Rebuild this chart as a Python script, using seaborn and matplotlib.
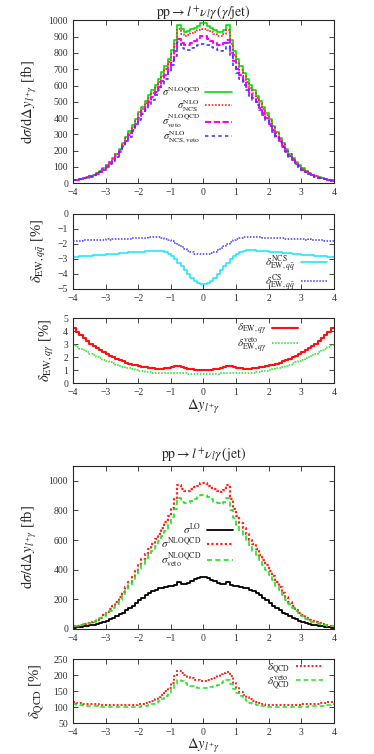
import numpy as np
import pandas as pd
import matplotlib
matplotlib.use("Agg")
import matplotlib.pyplot as plt
import seaborn as sns

# bins of width 0.1 in Delta y
edges = np.linspace(-4, 4, 81)
centers = 0.5 * (edges[:-1] + edges[1:])

# top panel: d sigma / d Delta y [fb]
nlo_qcd = [18, 22, 27, 32, 38, 45, 53, 63, 75, 92, 112, 132, 155, 182, 212, 246, 282, 318, 355, 395,
           435, 470, 505, 540, 572, 605, 640, 680, 720, 765, 815, 880, 972, 945, 930, 932, 945, 955, 968, 985,
           982, 966, 954, 943, 930, 927, 940, 970, 878, 812, 762, 718, 678, 638, 602, 570, 536, 502, 468, 432,
           393, 354, 316, 280, 245, 212, 182, 154, 130, 110, 91, 75, 62, 52, 44, 37, 31, 26, 22, 18]
nlo_ncs = [18, 22, 26, 31, 37, 44, 52, 62, 74, 90, 110, 129, 151, 178, 207, 240, 275, 310, 346, 385,
           424, 458, 492, 526, 557, 589, 622, 661, 700, 743, 792, 855, 945, 918, 905, 908, 920, 930, 940, 950,
           948, 938, 928, 918, 906, 904, 916, 943, 853, 790, 740, 698, 660, 620, 586, 555, 522, 490, 456, 421,
           383, 345, 309, 273, 239, 207, 178, 151, 127, 107, 89, 73, 61, 51, 43, 36, 30, 25, 21, 17]
nlo_qcd_veto = [17, 21, 25, 30, 35, 42, 49, 58, 70, 85, 104, 122, 143, 168, 196, 227, 260, 294, 329, 366,
                403, 435, 467, 499, 529, 559, 591, 627, 664, 705, 752, 810, 883, 858, 847, 850, 862, 875, 890, 904,
                902, 888, 874, 860, 848, 846, 858, 882, 800, 748, 702, 662, 626, 590, 556, 526, 496, 464, 432, 398,
                362, 327, 292, 259, 227, 196, 169, 143, 120, 102, 84, 69, 58, 48, 41, 34, 29, 24, 20, 16]
nlo_ncs_veto = [17, 21, 25, 29, 35, 41, 48, 57, 68, 83, 101, 119, 139, 163, 190, 220, 252, 285, 319, 355,
                391, 422, 452, 483, 512, 541, 572, 606, 642, 681, 726, 782, 867, 828, 816, 820, 832, 842, 850, 857,
                855, 846, 838, 828, 816, 814, 826, 862, 772, 722, 678, 640, 605, 571, 538, 509, 480, 449, 418, 385,
                351, 317, 283, 251, 220, 191, 164, 139, 117, 99, 82, 67, 56, 47, 40, 33, 28, 23, 19, 16]

# EW corrections, q qbar channel [%]
ew_qq_ncs = [-2.86, -2.85, -2.83, -2.82, -2.80, -2.79, -2.77, -2.75, -2.73, -2.72,
             -2.70, -2.68, -2.67, -2.65, -2.63, -2.61, -2.60, -2.58, -2.56, -2.55,
             -2.53, -2.52, -2.50, -2.48, -2.47, -2.46, -2.46, -2.48, -2.55, -2.66,
             -2.82, -3.02, -3.25, -3.50, -3.76, -4.02, -4.26, -4.46, -4.62, -4.70,
             -4.70, -4.62, -4.47, -4.27, -4.03, -3.77, -3.51, -3.26, -3.03, -2.83,
             -2.66, -2.54, -2.47, -2.44, -2.43, -2.44, -2.45, -2.46, -2.48, -2.50,
             -2.52, -2.54, -2.56, -2.58, -2.60, -2.62, -2.64, -2.66, -2.68, -2.70,
             -2.72, -2.74, -2.76, -2.78, -2.79, -2.81, -2.82, -2.84, -2.85, -2.86]
ew_qq_cs = [-1.82, -1.80, -1.81, -1.78, -1.77, -1.78, -1.75, -1.74, -1.74, -1.72,
            -1.71, -1.72, -1.69, -1.68, -1.68, -1.66, -1.65, -1.66, -1.63, -1.62,
            -1.62, -1.60, -1.61, -1.58, -1.57, -1.58, -1.57, -1.60, -1.65, -1.73,
            -1.83, -1.95, -2.08, -2.22, -2.36, -2.48, -2.58, -2.65, -2.69, -2.71,
            -2.71, -2.68, -2.62, -2.53, -2.42, -2.28, -2.14, -2.00, -1.87, -1.76,
            -1.67, -1.61, -1.58, -1.56, -1.57, -1.56, -1.58, -1.57, -1.59, -1.60,
            -1.61, -1.60, -1.62, -1.63, -1.63, -1.65, -1.66, -1.65, -1.68, -1.69,
            -1.70, -1.72, -1.71, -1.74, -1.75, -1.77, -1.76, -1.79, -1.81, -1.83]

# EW corrections, q gamma channel [%]
ew_qg = [4.20, 3.93, 3.68, 3.45, 3.24, 3.04, 2.86, 2.69, 2.53, 2.38,
         2.23, 2.09, 1.97, 1.86, 1.76, 1.66, 1.57, 1.49, 1.42, 1.36,
         1.30, 1.25, 1.20, 1.16, 1.13, 1.11, 1.10, 1.11, 1.14, 1.19,
         1.26, 1.31, 1.28, 1.20, 1.13, 1.08, 1.05, 1.04, 1.03, 1.03,
         1.03, 1.03, 1.04, 1.06, 1.09, 1.14, 1.21, 1.28, 1.31, 1.26,
         1.19, 1.14, 1.11, 1.10, 1.11, 1.13, 1.16, 1.20, 1.25, 1.30,
         1.36, 1.42, 1.49, 1.57, 1.66, 1.76, 1.86, 1.97, 2.09, 2.23,
         2.38, 2.53, 2.69, 2.86, 3.04, 3.24, 3.45, 3.68, 3.93, 4.20]
ew_qg_veto = [2.95, 2.80, 2.65, 2.51, 2.38, 2.25, 2.13, 2.01, 1.90, 1.80,
              1.70, 1.60, 1.51, 1.42, 1.34, 1.26, 1.19, 1.12, 1.06, 1.00,
              0.95, 0.90, 0.86, 0.82, 0.79, 0.77, 0.75, 0.75, 0.76, 0.78,
              0.80, 0.81, 0.80, 0.77, 0.75, 0.73, 0.72, 0.71, 0.70, 0.70,
              0.70, 0.70, 0.71, 0.72, 0.73, 0.75, 0.77, 0.80, 0.81, 0.80,
              0.78, 0.76, 0.75, 0.75, 0.77, 0.79, 0.82, 0.86, 0.90, 0.95,
              1.00, 1.06, 1.12, 1.19, 1.26, 1.34, 1.42, 1.51, 1.60, 1.70,
              1.80, 1.90, 2.01, 2.13, 2.25, 2.38, 2.51, 2.65, 2.80, 2.95]

# second figure: LO cross section [fb] (NLO curves are the ones above)
lo = [8, 10, 13, 16, 20, 24, 29, 34, 40, 47, 55, 64, 74, 85, 97, 110, 124, 139, 155, 172,
      192, 210, 227, 242, 255, 265, 273, 279, 284, 288, 292, 298, 314, 306, 304, 310, 322, 334, 344, 350,
      349, 342, 333, 322, 310, 303, 306, 313, 298, 292, 288, 284, 279, 273, 265, 255, 242, 227, 210, 192,
      172, 155, 139, 124, 110, 97, 85, 74, 64, 55, 47, 40, 34, 29, 24, 20, 16, 13, 10, 8]

# QCD corrections [%]
qcd = [116, 113, 112, 111, 110, 110, 109, 109, 108, 108, 107, 107, 106, 106, 106, 106, 106, 106, 107, 108,
       109, 111, 113, 116, 120, 125, 131, 139, 149, 161, 176, 196, 212, 205, 199, 194, 190, 186, 184, 183,
       183, 185, 188, 192, 197, 202, 207, 211, 197, 176, 160, 148, 138, 130, 124, 119, 115, 112, 110, 108,
       107, 106, 106, 106, 106, 106, 107, 107, 108, 108, 109, 109, 110, 110, 111, 111, 112, 112, 115, 116]
qcd_veto = [109, 106, 105, 104, 103, 103, 102, 102, 101, 101, 100, 100, 100, 99, 99, 99, 99, 99, 99, 100,
            101, 102, 104, 107, 110, 114, 119, 126, 134, 145, 158, 172, 185, 180, 175, 170, 166, 163, 161, 160,
            160, 161, 163, 166, 170, 175, 180, 185, 172, 158, 145, 134, 126, 119, 114, 110, 107, 104, 102, 101,
            100, 99, 99, 99, 99, 99, 99, 100, 100, 100, 101, 101, 102, 102, 103, 103, 104, 104, 106, 109]

sns.set_style("ticks")
plt.rcParams["font.family"] = ["Liberation Serif", "DejaVu Serif"]
plt.rcParams["mathtext.fontset"] = "stix"
plt.rcParams["axes.linewidth"] = 0.8


def draw(ax, vals, color, ls, lw, label):
    df = pd.DataFrame({"dy": centers, "val": vals})
    sns.histplot(data=df, x="dy", weights="val", binwidth=0.1, binrange=(-4, 4),
                 element="step", fill=False, color=color, linestyle=ls, linewidth=lw,
                 label=label, ax=ax)


def style(ax, yticks, ylim):
    ax.set_xlim(-4, 4)
    ax.set_ylim(*ylim)
    ax.set_xticks(range(-4, 5))
    ax.set_yticks(yticks)
    ax.tick_params(direction="in", top=True, right=True, length=3.5, width=0.6,
                   labelsize=7, labelcolor="#333333", pad=3.5)
    ax.set_xticklabels(["\u22124", "\u22123", "\u22122", "\u22121", "0", "1", "2", "3", "4"])
    ax.set_xlabel("")
    ax.set_ylabel("")


def leg(ax, x, y, spacing=-0.1, size=8):
    ax.legend(loc="center", bbox_to_anchor=(x, y), markerfirst=False, frameon=False,
              fontsize=size, handlelength=2.4 * 8 / size, handletextpad=0.5, labelspacing=spacing,
              borderaxespad=0, borderpad=0)


fig = plt.figure(figsize=(3.74, 7.54), dpi=100)
L, W = 0.195, 0.698
ax1 = fig.add_axes([L, 0.757, W, 0.216])
ax2 = fig.add_axes([L, 0.617, W, 0.0995])
ax3 = fig.add_axes([L, 0.492, W, 0.0862])
ax4 = fig.add_axes([L, 0.166, W, 0.216])
ax5 = fig.add_axes([L, 0.041, W, 0.0849])

dy = r"$\Delta y_{l^{+}\gamma}$"
ylab = 10.5

# panel 1
draw(ax1, nlo_qcd, "#00e000", "-", 1.2, r"$\sigma^{\rm NLOQCD}$")
draw(ax1, nlo_ncs, "#ff2020", (0, (1, 1)), 1.2, r"$\sigma^{\rm NLO}_{\rm NCS}$")
draw(ax1, nlo_qcd_veto, "#ff00ff", (0, (3, 1.2)), 1.5, r"$\sigma^{\rm NLOQCD}_{\rm veto}$")
draw(ax1, nlo_ncs_veto, "#3c3cff", (0, (2, 2)), 1.2, r"$\sigma^{\rm NLO}_{\rm NCS,veto}$")
style(ax1, range(0, 1001, 100), (0, 1000))
ax1.set_ylabel(r"${\rm d}\sigma/{\rm d}\Delta y_{l^{+}\gamma}$ [fb]", fontsize=ylab)
ax1.set_title(r"${\rm pp}\rightarrow l^{+}\nu_{l}\gamma\,(\gamma/{\rm jet})$", fontsize=10, pad=3)
leg(ax1, 0.475, 0.415, -0.05, 7.6)
ax1.yaxis.set_label_coords(-0.13, 0.5)

# panel 2
draw(ax2, ew_qq_ncs, "#20e8ff", "-", 1.2, r"$\delta^{\rm NCS}_{{\rm EW},q\bar{q}}$")
draw(ax2, ew_qq_cs, "#3c3cff", (0, (1, 1)), 1.1, r"$\delta^{\rm CS}_{{\rm EW},q\bar{q}}$")
style(ax2, range(-5, 1), (-5, 0))
ax2.set_ylabel(r"$\delta_{{\rm EW},q\bar{q}}$ [%]", fontsize=ylab)
leg(ax2, 0.855, 0.21, -0.2)
ax2.yaxis.set_label_coords(-0.095, 0.5)

# panel 3
draw(ax3, ew_qg, "#ff1010", "-", 1.5, r"$\delta_{{\rm EW},q\gamma}$")
draw(ax3, ew_qg_veto, "#20e020", (0, (1, 1)), 1.1, r"$\delta^{\rm veto}_{{\rm EW},q\gamma}$")
style(ax3, range(0, 6), (0, 5))
ax3.set_ylabel(r"$\delta_{{\rm EW},q\gamma}$ [%]", fontsize=ylab)
ax3.set_xlabel(dy, fontsize=ylab, labelpad=1)
leg(ax3, 0.745, 0.69, -0.15)
ax3.yaxis.set_label_coords(-0.065, 0.5)

# panel 4
draw(ax4, lo, "black", "-", 1.3, r"$\sigma^{\rm LO}$")
draw(ax4, nlo_qcd, "#ff2020", (0, (1, 1)), 1.6, r"$\sigma^{\rm NLOQCD}$")
draw(ax4, nlo_qcd_veto, "#20e020", (0, (3, 2)), 1.2, r"$\sigma^{\rm NLOQCD}_{\rm veto}$")
style(ax4, range(0, 1001, 200), (0, 1100))
ax4.set_ylabel(r"${\rm d}\sigma/{\rm d}\Delta y_{l^{+}\gamma}$ [fb]", fontsize=ylab)
ax4.set_title(r"${\rm pp}\rightarrow l^{+}\nu_{l}\gamma\,({\rm jet})$", fontsize=10, pad=6)
leg(ax4, 0.475, 0.51, -0.05)
ax4.yaxis.set_label_coords(-0.13, 0.5)

# panel 5
draw(ax5, qcd, "#ff2020", (0, (1, 1)), 1.4, r"$\delta_{\rm QCD}$")
draw(ax5, qcd_veto, "#20e020", (0, (3, 2)), 1.1, r"$\delta^{\rm veto}_{\rm QCD}$")
style(ax5, range(50, 251, 50), (50, 250))
ax5.set_ylabel(r"$\delta_{\rm QCD}$ [%]", fontsize=ylab)
ax5.set_xlabel(dy, fontsize=ylab, labelpad=0)
leg(ax5, 0.85, 0.73, -0.15)
ax5.yaxis.set_label_coords(-0.1, 0.5)

fig.savefig("out.png", dpi=100)
